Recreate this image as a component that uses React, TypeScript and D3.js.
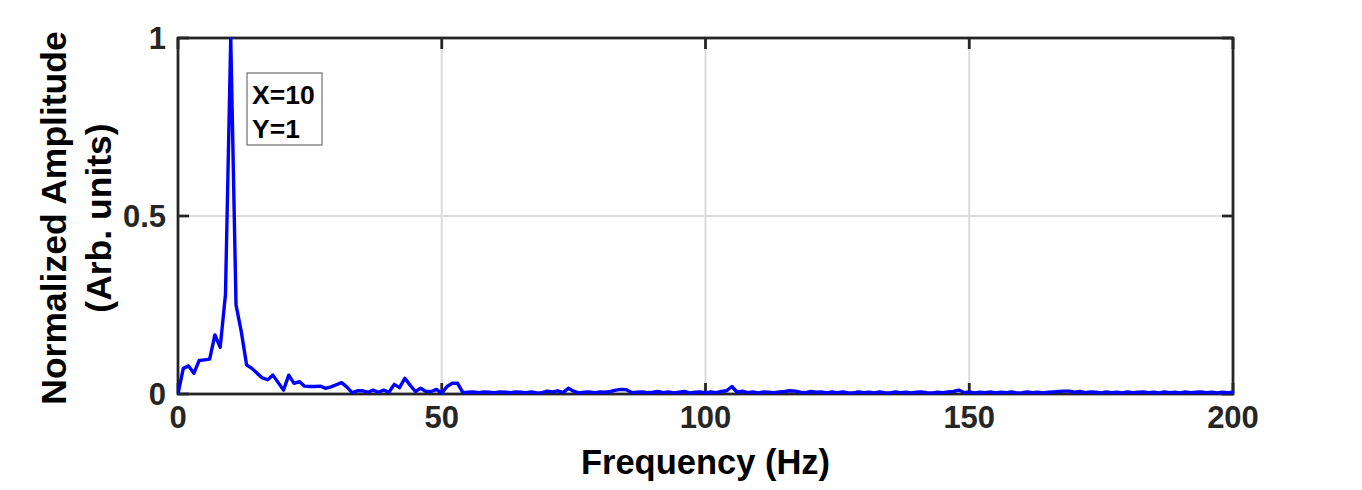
import React from "react";
import * as d3 from "d3";

// ---- data ----
const frequencies: number[] = d3.range(0, 201, 1); // Hz bins
const amplitudes: number[] = [
  0, 0.072, 0.079, 0.058, 0.094, 0.096, 0.098, 0.166, 0.131, 0.28,
  1, 0.25, 0.175, 0.082, 0.072, 0.058, 0.045, 0.04, 0.053, 0.032,
  0.011, 0.053, 0.03, 0.035, 0.022, 0.021, 0.021, 0.022, 0.016, 0.02,
  0.026, 0.032, 0.02, 0.004, 0.009, 0.009, 0.005, 0.011, 0.005, 0.011,
  0.005, 0.027, 0.018, 0.044, 0.025, 0.007, 0.016, 0.007, 0.007, 0.013,
  0.002, 0.021, 0.03, 0.03, 0.004,
  0.005, 0.006, 0.004, 0.006, 0.005, 0.004, 0.006, 0.005, 0.004, 0.006,
  0.005, 0.004, 0.006, 0.003, 0.004, 0.008, 0.006, 0.009, 0.004, 0.016,
  0.008, 0.003, 0.005, 0.006, 0.004, 0.006, 0.005, 0.007, 0.011, 0.013,
  0.012, 0.004, 0.005, 0.006, 0.004, 0.005, 0.007, 0.004, 0.006, 0.003,
  0.005, 0.007, 0.003, 0.005, 0.006, 0.003, 0.006, 0.004, 0.007, 0.009,
  0.021, 0.005, 0.008, 0.004, 0.006, 0.003, 0.006, 0.005, 0.004, 0.006,
  0.007, 0.009, 0.008, 0.005, 0.004, 0.007, 0.005, 0.006, 0.003, 0.006,
  0.004, 0.006, 0.004, 0.003, 0.006, 0.004, 0.005, 0.003, 0.006, 0.004,
  0.003, 0.006, 0.004, 0.005, 0.003, 0.005, 0.006, 0.004, 0.003, 0.005,
  0.004, 0.006, 0.007, 0.011, 0.004, 0.006, 0.003, 0.005, 0.004, 0.006,
  0.003, 0.005, 0.004, 0.006, 0.003, 0.004, 0.006, 0.004, 0.005, 0.003,
  0.005, 0.006, 0.007, 0.008, 0.008, 0.005, 0.007, 0.004, 0.006, 0.005,
  0.003, 0.006, 0.004, 0.005, 0.003, 0.006, 0.004, 0.005, 0.006, 0.004,
  0.005, 0.003, 0.006, 0.004, 0.005, 0.003, 0.006, 0.004, 0.005, 0.006,
  0.004, 0.005, 0.003, 0.005, 0.004, 0.005,
];
const xTicks: number[] = [0, 50, 100, 150, 200];
const yTicks: number[] = [0, 0.5, 1];
const yTickLabels: string[] = ["0", "0.5", "1"];
const xLabel = "Frequency (Hz)";
const yLabelLines: string[] = ["Normalized Amplitude", "(Arb. units)"];
const annotationLines: string[] = ["X=10", "Y=1"];

const W = 1362;
const H = 490;
const L = 178, R = 1233, T = 38, B = 394;
const FONT = "'Liberation Sans', Arial, Helvetica, sans-serif";
const AX = "#262626";

export default function App() {
  const x = d3.scaleLinear().domain([0, 200]).range([L, R]);
  const y = d3.scaleLinear().domain([0, 1]).range([B, T]);
  const pts: [number, number][] = frequencies.map((f, i) => [f, amplitudes[i]]);
  const line = d3
    .line<[number, number]>()
    .x((d) => x(d[0]))
    .y((d) => y(d[1]));
  const tickLen = 11;

  return (
    <svg
      width={W}
      height={H}
      style={{ position: "absolute", left: 0, top: 0, display: "block" }}
      fontFamily={FONT}
    >
      <rect x={0} y={0} width={W} height={H} fill="#ffffff" />
      <defs>
        <clipPath id="plotclip">
          <rect x={L} y={T - 1} width={R - L} height={B - T + 2} />
        </clipPath>
      </defs>
      {/* grid */}
      {xTicks.map((t) => (
        <line key={"gx" + t} x1={x(t)} x2={x(t)} y1={T} y2={B} stroke="#dcdcdc" strokeWidth={2} />
      ))}
      {yTicks.map((t) => (
        <line key={"gy" + t} x1={L} x2={R} y1={y(t)} y2={y(t)} stroke="#dcdcdc" strokeWidth={2} />
      ))}
      {/* box */}
      <rect x={L} y={T} width={R - L} height={B - T} fill="none" stroke={AX} strokeWidth={2.8} />
      {/* ticks */}
      {xTicks.map((t) => (
        <g key={"tx" + t}>
          <line x1={x(t)} x2={x(t)} y1={B} y2={B - tickLen} stroke={AX} strokeWidth={2.8} />
          <line x1={x(t)} x2={x(t)} y1={T} y2={T + tickLen} stroke={AX} strokeWidth={2.8} />
        </g>
      ))}
      {yTicks.map((t) => (
        <g key={"ty" + t}>
          <line x1={L} x2={L + tickLen} y1={y(t)} y2={y(t)} stroke={AX} strokeWidth={2.8} />
          <line x1={R} x2={R - tickLen} y1={y(t)} y2={y(t)} stroke={AX} strokeWidth={2.8} />
        </g>
      ))}
      {/* data line */}
      <path
        d={line(pts) || ""}
        fill="none"
        stroke="#0000ff"
        strokeWidth={3.4}
        strokeLinejoin="round"
        clipPath="url(#plotclip)"
      />
      {/* tick labels */}
      {xTicks.map((t) => (
        <text
          key={"lx" + t}
          x={x(t)}
          y={428}
          textAnchor="middle"
          fontSize={31}
          fontWeight="bold"
          fill={AX}
        >
          {String(t)}
        </text>
      ))}
      {yTicks.map((t, i) => (
        <text
          key={"ly" + t}
          x={166}
          y={y(t) + 11}
          textAnchor="end"
          fontSize={31}
          fontWeight="bold"
          fill={AX}
        >
          {yTickLabels[i]}
        </text>
      ))}
      {/* axis labels */}
      <text x={(L + R) / 2} y={474} textAnchor="middle" fontSize={34.5} fontWeight="bold" fill="#000">
        {xLabel}
      </text>
      {yLabelLines.map((s, i) => (
        <text
          key={"yl" + i}
          transform={`translate(${66 + i * 45},${(T + B) / 2 + 2}) rotate(-90)`}
          textAnchor="middle"
          fontSize={35.5}
          fontWeight="bold"
          fill="#000"
        >
          {s}
        </text>
      ))}
      {/* annotation */}
      <rect x={247} y={73} width={75} height={72} fill="#ffffff" stroke="#6e6e6e" strokeWidth={1.2} />
      {annotationLines.map((s, i) => (
        <text key={"an" + i} x={252} y={104 + i * 34} fontSize={26.5} fontWeight="bold" fill="#000">
          {s}
        </text>
      ))}
    </svg>
  );
}
